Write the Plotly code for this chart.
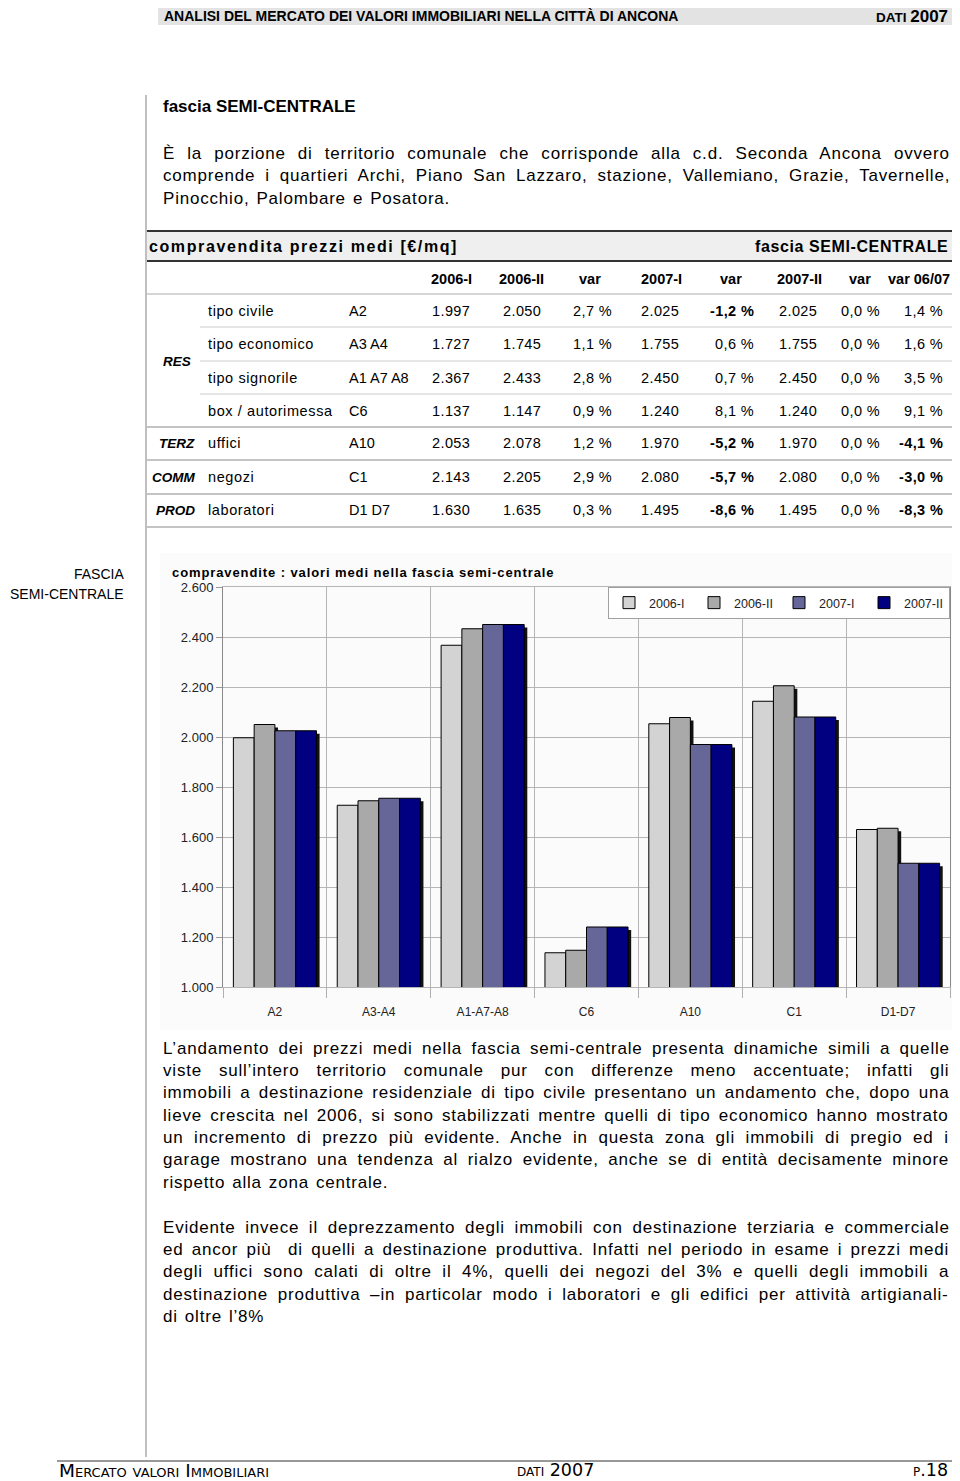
import plotly.graph_objects as go

# ---------------- data ----------------
categories = ["A2", "A3-A4", "A1-A7-A8", "C6", "A10", "C1", "D1-D7"]
series_names = ["2006-I", "2006-II", "2007-I", "2007-II"]
v_2006_I = [1997, 1727, 2367, 1137, 2053, 2143, 1630]
v_2006_II = [2050, 1745, 2433, 1147, 2078, 2205, 1635]
v_2007_I = [2025, 1755, 2450, 1240, 1970, 2080, 1495]
v_2007_II = [2025, 1755, 2450, 1240, 1970, 2080, 1495]
series_colors = ["#d3d3d3", "#a9a9a9", "#666699", "#000080"]

row_labels = ["tipo civile", "tipo economico", "tipo signorile", "box / autorimessa",
              "uffici", "negozi", "laboratori"]
row_codes = ["A2", "A3 A4", "A1 A7 A8", "C6", "A10", "C1", "D1 D7"]
var_06 = ["2,7 %", "1,1 %", "2,8 %", "0,9 %", "1,2 %", "2,9 %", "0,3 %"]
var_07I = ["-1,2 %", "0,6 %", "0,7 %", "8,1 %", "-5,2 %", "-5,7 %", "-8,6 %"]
var_07II = ["0,0 %", "0,0 %", "0,0 %", "0,0 %", "0,0 %", "0,0 %", "0,0 %"]
var_tot = ["1,4 %", "1,6 %", "3,5 %", "9,1 %", "-4,1 %", "-3,0 %", "-8,3 %"]
col_headers = ["2006-I", "2006-II", "var", "2007-I", "var", "2007-II", "var", "var 06/07"]

intro_lines = [
    "È la porzione di territorio comunale che corrisponde alla c.d. Seconda Ancona ovvero",
    "comprende i quartieri Archi, Piano San Lazzaro, stazione, Vallemiano, Grazie, Tavernelle,",
    "Pinocchio, Palombare e Posatora.",
]
para1_lines = [
    "L’andamento dei prezzi medi nella fascia semi-centrale presenta dinamiche simili a quelle",
    "viste sull’intero territorio comunale pur con differenze meno accentuate; infatti gli",
    "immobili a destinazione residenziale di tipo civile presentano un andamento che, dopo una",
    "lieve crescita nel 2006, si sono stabilizzati mentre quelli di tipo economico hanno mostrato",
    "un incremento di prezzo più evidente. Anche in questa zona gli immobili di pregio ed i",
    "garage mostrano una tendenza al rialzo evidente, anche se di entità decisamente minore",
    "rispetto alla zona centrale.",
]
para2_lines = [
    "Evidente invece il deprezzamento degli immobili con destinazione terziaria e commerciale",
    "ed ancor più  di quelli a destinazione produttiva. Infatti nel periodo in esame i prezzi medi",
    "degli uffici sono calati di oltre il 4%, quelli dei negozi del 3% e quelli degli immobili a",
    "destinazione produttiva –in particolar modo i laboratori e gli edifici per attività artigianali-",
    "di oltre l’8%",
]

# natural (unspaced) rendered widths of the lines at 17px, used to justify them
intro_nat = [640, 670, 256]
para1_nat = [672, 604, 680, 677, 641, 669, 198]
para2_nat = [674, 668, 627, 659, 88]

# ---------------- layout helpers ----------------
# the page has an 8px body margin: figure occupies page pixels 8..952 x 8..1481
OX, OY = 8, 8
PAGE_R = 952
W, H = PAGE_R - OX, 1481 - OY
PL, PR, PT, PBOT = 223, 950, 587, 987        # plot area in page pixels
L, R, T, B = PL - OX, (PAGE_R - PR), PT - OY, (1481 - PBOT)
PW, PH = PR - PL, PBOT - PT

def px(x):
    return (x - PL) / PW

def py(y):
    return (PBOT - y) / PH

SANS = "Liberation Sans, Arial, sans-serif"

annotations = []
shapes = []

def ann(text, x, y, size=13, xanchor="left", family=SANS, color="black",
        weight="normal", style="normal", variant="normal", spacing=None, wspacing=None):
    st = ""
    if spacing:
        st += f"letter-spacing:{spacing:.2f}px;"
    if wspacing:
        st += f"word-spacing:{wspacing:.2f}px;"
    if st:
        text = f"<span style='{st}'>{text}</span>"
    annotations.append(dict(
        xref="paper", yref="paper", x=px(x), y=py(y), text=text, showarrow=False,
        xanchor=xanchor, yanchor="middle",
        font=dict(size=size, family=family, color=color, weight=weight,
                  style=style, variant=variant)))

def hline(x0, x1, y, color="#bbbbbb", width=1):
    shapes.append(dict(type="line", xref="paper", yref="paper", x0=px(x0), x1=px(x1),
                       y0=py(y), y1=py(y), line=dict(color=color, width=width), layer="above"))

def rect(x0, x1, y0, y1, fill):
    shapes.append(dict(type="rect", xref="paper", yref="paper", x0=px(x0), x1=px(x1),
                       y0=py(y0), y1=py(y1), fillcolor=fill, line=dict(width=0), layer="below"))

def justified(lines, nat, x0, y0, step, target=786, ls=0.8, last_ws=1.5):
    for i, (t, w0) in enumerate(zip(lines, nat)):
        n, k = len(t), max(t.count(" "), 1)
        if i == len(lines) - 1:
            ws = last_ws
        else:
            ws = (target - w0 - n * ls) / k
        ann(t, x0, y0 + i * step, 17, spacing=ls, wspacing=ws)

# ---------------- page header ----------------
rect(158, 961, 3, 25, "#e3e3e3")
ann("ANALISI DEL MERCATO DEI VALORI IMMOBILIARI NELLA CITTÀ DI ANCONA", 162, 16, 14,
    weight="bold")
ann("DATI <span style='font-size:17px'>2007</span>", 950, 16.5, 13.5, xanchor="right",
    weight="bold")

# vertical page rule
shapes.append(dict(type="line", xref="paper", yref="paper", x0=px(146), x1=px(146),
                   y0=py(95), y1=py(1457), line=dict(color="#aaaaaa", width=1.5), layer="below"))

# ---------------- intro ----------------
ann("fascia SEMI-CENTRALE", 161, 107, 17, weight="bold")
justified(intro_lines, intro_nat, 161, 153, 22.5, ls=0.8)

# ---------------- table ----------------
rect(147, 961, 232, 260, "#efefef")
hline(147, 961, 231, "#333333", 2)
hline(147, 961, 261, "#333333", 2)
ann("compravendita prezzi medi [€/mq]", 147, 246, 16, weight="bold", spacing=1.6)
ann("fascia SEMI-CENTRALE", 950, 246, 16, xanchor="right", weight="bold", spacing=0.6)

hdr_x = [451, 521, 590, 661, 731, 799, 860, 919]
for h, x in zip(col_headers, hdr_x):
    ann(h, x, 279, 14.5, xanchor="center", weight="bold")
hline(147, 961, 294, "#c8c8c8", 1.5)

row_y = [311, 344, 378, 411, 443, 477, 510]
col_right = [472, 543, 614, 681, 756, 819, 882, 945]

def fmt(v):
    return f"{v // 1000}.{v % 1000:03d}"

for i in range(len(row_labels)):
    y = row_y[i]
    ann(row_labels[i], 206, y, 14.5, spacing=0.6)
    ann(row_codes[i], 347, y, 14.5)
    cells = [fmt(v_2006_I[i]), fmt(v_2006_II[i]), var_06[i], fmt(v_2007_I[i]),
             var_07I[i], fmt(v_2007_II[i]), var_07II[i], var_tot[i]]
    for c, xr in zip(cells, col_right):
        ann(c, xr, y, 14.5, xanchor="right", spacing=0.4,
            weight="bold" if c.startswith("-") else "normal")

ann("RES", 193, 361, 13.5, xanchor="right", weight="bold", style="italic")
ann("TERZ", 197, 443, 13.5, xanchor="right", weight="bold", style="italic")
ann("COMM", 197, 477, 13.5, xanchor="right", weight="bold", style="italic")
ann("PROD", 197, 510, 13.5, xanchor="right", weight="bold", style="italic")

for y in (327, 361, 394):
    hline(200, 961, y, "#cccccc", 1)
for y in (427, 460, 494, 527):
    hline(147, 961, y, "#c4c4c4", 2)

# ---------------- chart side label & title ----------------
ann("FASCIA", 126, 574, 14, xanchor="right")
ann("SEMI-CENTRALE", 126, 594, 14, xanchor="right")
rect(160, 958, 553, 1030, "#fbfbfb")
ann("compravendite : valori medi nella fascia semi-centrale", 170, 572, 13, weight="bold",
    spacing=0.9)

# ---------------- paragraphs ----------------
justified(para1_lines, para1_nat, 161, 1048, 22.35)
justified(para2_lines, para2_nat, 161, 1227, 22.35)

# ---------------- footer ----------------
hline(57, 957, 1461, "#333333", 1)
ann("Mercato valori Immobiliari", 57, 1470, 18.5, family="DejaVu Sans", variant="small-caps")
ann("dati 2007", 515, 1470, 17.5, family="DejaVu Sans", variant="small-caps")
ann("p.18", 950, 1470, 17.5, xanchor="right", family="DejaVu Sans", variant="small-caps")

# ---------------- bars ----------------
all_series = [v_2006_I, v_2006_II, v_2007_I, v_2007_II]
bar_w = 0.2
offsets = [-0.4, -0.2, 0.0, 0.2]
fig = go.Figure()
# drop shadows first
for vals, off in zip(all_series, offsets):
    fig.add_trace(go.Bar(x=categories, y=[v - 12 for v in vals], width=bar_w,
                         offset=off + 0.03, marker=dict(color="#111111", line=dict(width=0)),
                         showlegend=False, hoverinfo="skip"))
for name, vals, off, col in zip(series_names, all_series, offsets, series_colors):
    fig.add_trace(go.Bar(x=categories, y=vals, name=name, width=bar_w, offset=off,
                         marker=dict(color=col, line=dict(color="#000000", width=1))))

fig.update_layout(
    width=W, height=H, margin=dict(l=L, r=R, t=T, b=B, autoexpand=False),
    barmode="overlay", paper_bgcolor="white", plot_bgcolor="#fdfdfd",
    separators=",.",
    font=dict(family=SANS, size=13, color="#222222"),
    annotations=annotations, shapes=shapes,
    legend=dict(orientation="h", x=1, xanchor="right", y=1, yanchor="top",
                bgcolor="white", bordercolor="#a0a0a0", borderwidth=1,
                entrywidth=40, entrywidthmode="pixels", itemwidth=30,
                font=dict(size=12.5, family=SANS, color="#222222")),
    xaxis=dict(tickson="boundaries", ticks="outside", ticklen=10, tickcolor="#b0b0b0",
               showgrid=True, gridcolor="#b5b5b5", showline=True, linecolor="#b5b5b5",
               mirror=True, ticklabelstandoff=14,
               tickfont=dict(size=12, family=SANS, color="#222222")),
    yaxis=dict(range=[1000, 2600], dtick=200, tickformat=",d", ticks="outside",
               ticklen=6, tickcolor="#999999", showgrid=True, gridcolor="#b5b5b5",
               showline=True, linecolor="#888888", mirror=True, zeroline=False,
               tickfont=dict(size=13, family=SANS, color="#222222")),
)

fig.write_html("out.html")
